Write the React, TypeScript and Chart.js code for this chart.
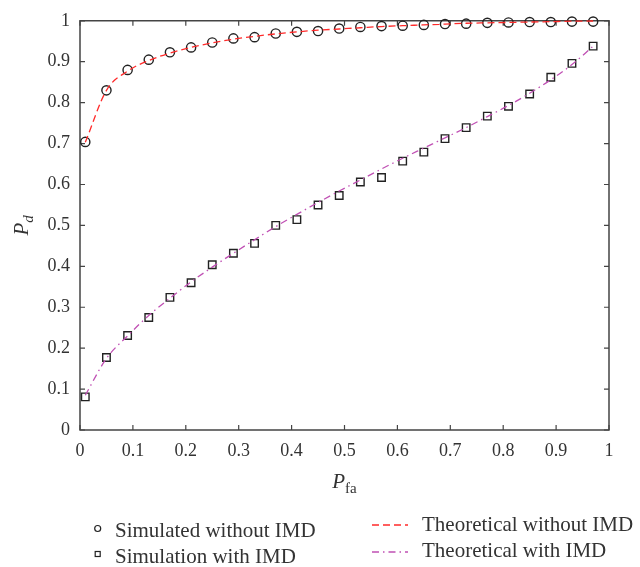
import React, { useEffect, useRef } from 'react';
import { Chart, registerables } from 'chart.js';

Chart.register(...registerables);

const pfa = [0.01, 0.05, 0.09, 0.13, 0.17, 0.21, 0.25, 0.29, 0.33, 0.37, 0.41, 0.45, 0.49, 0.53, 0.57, 0.61, 0.65, 0.69, 0.73, 0.77, 0.81, 0.85, 0.89, 0.93, 0.97];
const simWithoutIMD = [0.704, 0.830, 0.880, 0.905, 0.923, 0.935, 0.947, 0.957, 0.960, 0.969, 0.973, 0.975, 0.981, 0.985, 0.987, 0.988, 0.990, 0.992, 0.993, 0.995, 0.996, 0.997, 0.997, 0.998, 0.998];
const simWithIMD = [0.081, 0.177, 0.231, 0.275, 0.324, 0.360, 0.404, 0.432, 0.456, 0.500, 0.514, 0.550, 0.573, 0.606, 0.617, 0.657, 0.679, 0.712, 0.739, 0.767, 0.791, 0.821, 0.862, 0.896, 0.938];
const theoWithoutIMD = [0.703, 0.830, 0.877, 0.903, 0.921, 0.935, 0.946, 0.955, 0.962, 0.968, 0.973, 0.977, 0.980, 0.983, 0.986, 0.988, 0.990, 0.992, 0.994, 0.995, 0.996, 0.997, 0.998, 0.999, 0.9995];
const theoWithIMD = [0.085, 0.175, 0.230, 0.280, 0.322, 0.362, 0.398, 0.432, 0.465, 0.497, 0.527, 0.556, 0.584, 0.611, 0.638, 0.664, 0.689, 0.714, 0.739, 0.766, 0.793, 0.823, 0.856, 0.893, 0.938];

const tickValues = [0, 0.1, 0.2, 0.3, 0.4, 0.5, 0.6, 0.7, 0.8, 0.9, 1];
const tickLabels = ['0', '0.1', '0.2', '0.3', '0.4', '0.5', '0.6', '0.7', '0.8', '0.9', '1'];

const legendLabels = ['Simulated without IMD', 'Simulation with IMD', 'Theoretical without IMD', 'Theoretical with IMD'];

const SERIF = "'Liberation Serif', 'DejaVu Serif', serif";
const AXIS_COLOR = '#444';
const TEXT_COLOR = '#333';
const RED = '#ff2a2a';
const MAGENTA = '#c050b4';

const toPoints = (ys: number[]) => pfa.map((x, i) => ({ x, y: ys[i] }));

const framePlugin = {
  id: 'frameTicks',
  beforeDatasetsDraw(chart: any) {
    const { ctx, chartArea } = chart;
    const { left, right, top, bottom } = chartArea;
    const xs = chart.scales.x;
    const ys = chart.scales.y;
    const tl = 5;
    ctx.save();
    ctx.strokeStyle = AXIS_COLOR;
    ctx.lineWidth = 1.5;
    ctx.beginPath();
    ctx.rect(left, top, right - left, bottom - top);
    ctx.stroke();
    ctx.lineWidth = 1.2;
    ctx.beginPath();
    tickValues.forEach((v) => {
      const px = xs.getPixelForValue(v);
      ctx.moveTo(px, bottom);
      ctx.lineTo(px, bottom - tl);
      ctx.moveTo(px, top);
      ctx.lineTo(px, top + tl);
      const py = ys.getPixelForValue(v);
      ctx.moveTo(left, py);
      ctx.lineTo(left + tl, py);
      ctx.moveTo(right, py);
      ctx.lineTo(right - tl, py);
    });
    ctx.stroke();
    ctx.restore();
  },
  afterDraw(chart: any) {
    const { ctx, chartArea } = chart;
    const { left, right, top, bottom } = chartArea;
    ctx.save();
    ctx.fillStyle = TEXT_COLOR;
    ctx.textBaseline = 'alphabetic';
    ctx.textAlign = 'left';
    // x title: P_fa
    ctx.font = `italic 21px ${SERIF}`;
    const pW = ctx.measureText('P').width;
    ctx.font = `15px ${SERIF}`;
    const faW = ctx.measureText('fa').width;
    const cx = (left + right) / 2;
    const startX = cx - (pW + faW) / 2;
    const baseY = bottom + 58;
    ctx.font = `italic 21px ${SERIF}`;
    ctx.fillText('P', startX, baseY);
    ctx.font = `15px ${SERIF}`;
    ctx.fillText('fa', startX + pW, baseY + 5);
    // y title: P_d
    ctx.font = `italic 21px ${SERIF}`;
    const pW2 = ctx.measureText('P').width;
    ctx.font = `italic 15px ${SERIF}`;
    const dW = ctx.measureText('d').width;
    const cy = (top + bottom) / 2;
    ctx.translate(28, cy);
    ctx.rotate(-Math.PI / 2);
    const sx = -(pW2 + dW) / 2;
    ctx.font = `italic 21px ${SERIF}`;
    ctx.fillText('P', sx, 0);
    ctx.font = `italic 15px ${SERIF}`;
    ctx.fillText('d', sx + pW2, 5);
    ctx.restore();
  },
};

export default function App() {
  const canvasRef = useRef<HTMLCanvasElement | null>(null);

  useEffect(() => {
    document.body.style.margin = '0';
    const canvas = canvasRef.current;
    if (!canvas) return;
    const chart = new Chart(canvas, {
      type: 'scatter',
      data: {
        datasets: [
          {
            label: legendLabels[2],
            data: toPoints(theoWithoutIMD),
            showLine: true,
            borderColor: RED,
            borderWidth: 1.3,
            borderDash: [7, 4],
            pointRadius: 0,
            tension: 0.4,
            cubicInterpolationMode: 'monotone',
            clip: false,
          },
          {
            label: legendLabels[3],
            data: toPoints(theoWithIMD),
            showLine: true,
            borderColor: MAGENTA,
            borderWidth: 1.3,
            borderDash: [7, 4, 1.5, 4],
            pointRadius: 0,
            tension: 0.4,
            cubicInterpolationMode: 'monotone',
            clip: false,
          },
          {
            label: legendLabels[0],
            data: toPoints(simWithoutIMD),
            showLine: false,
            pointStyle: 'circle',
            pointRadius: 4.6,
            pointBorderWidth: 1.4,
            pointBorderColor: '#222',
            pointBackgroundColor: 'rgba(0,0,0,0)',
            clip: false,
          },
          {
            label: legendLabels[1],
            data: toPoints(simWithIMD),
            showLine: false,
            pointStyle: 'rect',
            pointRadius: 5.3,
            pointBorderWidth: 1.4,
            pointBorderColor: '#222',
            pointBackgroundColor: 'rgba(0,0,0,0)',
            clip: false,
          },
        ],
      },
      options: {
        responsive: false,
        animation: false,
        events: [],
        layout: { padding: { left: 0, top: 12, right: 31, bottom: 97 } },
        plugins: {
          legend: { display: false },
          tooltip: { enabled: false },
          title: { display: false },
        },
        scales: {
          x: {
            type: 'linear',
            min: 0,
            max: 1,
            afterBuildTicks: (scale: any) => {
              scale.ticks = tickValues.map((v) => ({ value: v }));
            },
            afterFit: (scale: any) => {
              scale.height = 40;
            },
            grid: { display: false, drawTicks: false },
            border: { display: false },
            ticks: {
              autoSkip: false,
              maxRotation: 0,
              padding: 10,
              color: TEXT_COLOR,
              font: { family: SERIF, size: 18 },
              callback: (_v: any, i: number) => tickLabels[i],
            },
          },
          y: {
            type: 'linear',
            min: 0,
            max: 1,
            afterBuildTicks: (scale: any) => {
              scale.ticks = tickValues.map((v) => ({ value: v }));
            },
            afterFit: (scale: any) => {
              scale.width = 80;
            },
            grid: { display: false, drawTicks: false },
            border: { display: false },
            ticks: {
              autoSkip: false,
              padding: 10,
              color: TEXT_COLOR,
              font: { family: SERIF, size: 18 },
              callback: (_v: any, i: number) => tickLabels[i],
            },
          },
        },
      },
      plugins: [framePlugin],
    } as any);
    return () => chart.destroy();
  }, []);

  const textStyle = { fontFamily: SERIF, fontSize: 21, fill: TEXT_COLOR } as any;

  return (
    <div style={{ position: 'relative', width: 640, height: 567 }}>
      <canvas ref={canvasRef} width={640} height={567} style={{ position: 'absolute', left: 0, top: 0 }} />
      <svg width={640} height={567} style={{ position: 'absolute', left: 0, top: 0, pointerEvents: 'none' }}>
        <circle cx={97.7} cy={528.5} r={3} fill="none" stroke="#222" strokeWidth={1.2} />
        <text x={115} y={536.5} style={textStyle}>{legendLabels[0]}</text>
        <rect x={95.2} y={551.5} width={5} height={5} fill="none" stroke="#222" strokeWidth={1.2} />
        <text x={115} y={562.5} style={textStyle}>{legendLabels[1]}</text>
        <line x1={372} y1={525} x2={408} y2={525} stroke={RED} strokeWidth={1.3} strokeDasharray="7 4" />
        <text x={422} y={531} style={textStyle}>{legendLabels[2]}</text>
        <line x1={372} y1={552} x2={408} y2={552} stroke={MAGENTA} strokeWidth={1.3} strokeDasharray="7 4 1.5 4" />
        <text x={422} y={557} style={textStyle}>{legendLabels[3]}</text>
      </svg>
    </div>
  );
}
